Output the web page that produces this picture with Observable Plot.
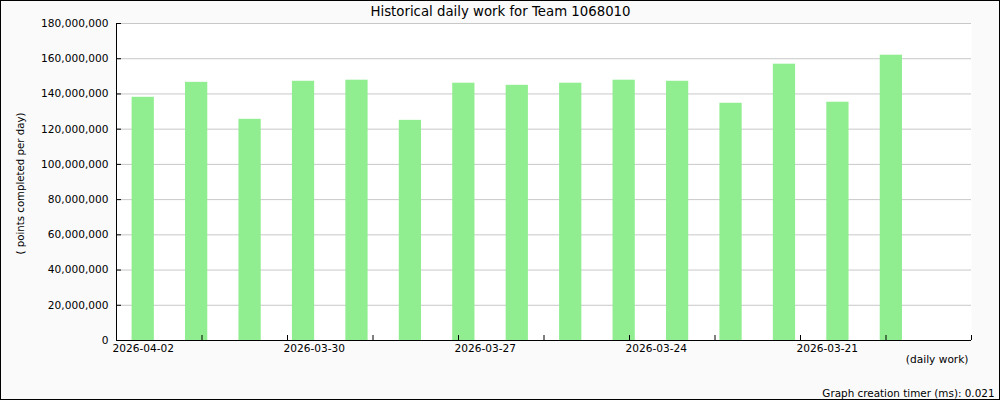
<!DOCTYPE html>
<html>
<head>
<meta charset="utf-8">
<script src="https://cdn.jsdelivr.net/npm/d3@7"></script>
<script src="https://cdn.jsdelivr.net/npm/@observablehq/plot@0.6"></script>
<style>
  html, body { margin: 0; padding: 0; background: #fafafa; }
  #wrap { position: relative; width: 1000px; height: 400px; }
  #border { position: absolute; left: 0; top: 0; width: 1000px; height: 400px; box-sizing: border-box; border: 1px solid #000; pointer-events: none; }
  svg { display: block; }
</style>
</head>
<body>
<div id="wrap"><div id="border"></div></div>
<script>
const titleText = "Historical daily work for Team 1068010";
const yLabelText = "( points completed per day)";
const xLabelText = "(daily work)";
const footerText = "Graph creation timer (ms): 0.021";

const dates = ["2026-04-02","2026-04-01","2026-03-31","2026-03-30","2026-03-29","2026-03-28","2026-03-27","2026-03-26","2026-03-25","2026-03-24","2026-03-23","2026-03-22","2026-03-21","2026-03-20","2026-03-19"];
const values = [138.1e6,146.6e6,125.6e6,147.2e6,147.8e6,125.0e6,146.1e6,144.9e6,146.1e6,147.8e6,147.2e6,134.7e6,156.9e6,135.3e6,162.0e6];
const yTicks = [0,20e6,40e6,60e6,80e6,100e6,120e6,140e6,160e6,180e6];
const xTickLabels = ["2026-04-02","2026-03-30","2026-03-27","2026-03-24","2026-03-21"];

const slots = dates.length + 1;           // one empty slot at the end
const tickCount = 10;                      // minor tick intervals
const tickStep = slots / tickCount;
const xTickPos = d3.range(tickCount + 1).map(k => k * tickStep);
const labelPos = xTickLabels.map((d, i) => i * 2 * tickStep);

const data = dates.map((d, i) => ({date: d, idx: i, value: values[i]}));

const font = "DejaVu Sans";
const chart = Plot.plot({
  width: 1000,
  height: 400,
  marginLeft: 116,
  marginRight: 29,
  marginTop: 23,
  marginBottom: 60,
  style: {background: "#fafafa", fontFamily: font, color: "#000", overflow: "visible"},
  x: {domain: [0, slots], axis: null},
  y: {domain: [0, 180e6], axis: null},
  marks: [
    Plot.frame({fill: "white", stroke: null}),
    Plot.gridY(yTicks, {stroke: "#c8c8c8", strokeOpacity: 1}),
    Plot.rectY(data, {x1: d => d.idx, x2: d => d.idx + 1, y: "value", fill: "#90ee90", insetLeft: 15.6, insetRight: 15.6}),
    Plot.ruleX([0], {stroke: "black"}),
    Plot.ruleY([0], {stroke: "black"}),
    Plot.ruleY(yTicks, {y: d => d, stroke: "black", insetRight: 850}),
    Plot.ruleX(xTickPos, {x: d => d, stroke: "black", insetTop: 312}),
    Plot.text(yTicks, {y: d => d, text: d => d3.format(",")(d), frameAnchor: "left", textAnchor: "end", dx: -8, fontSize: 10.6, fill: "black"}),
    Plot.text(xTickLabels, {x: (d, i) => labelPos[i], text: d => d, frameAnchor: "bottom", textAnchor: "start", lineAnchor: "middle", dx: -4, dy: 8, fontSize: 10.6, fill: "black"}),
    Plot.text([titleText], {text: d => d, frameAnchor: "top-left", textAnchor: "middle", lineAnchor: "middle", dx: 384, dy: -12, fontSize: 13.3, fill: "black"}),
    Plot.text([xLabelText], {text: d => d, frameAnchor: "bottom-left", textAnchor: "end", lineAnchor: "middle", dx: 852, dy: 19.5, fontSize: 10.6, fill: "black"}),
    Plot.text([footerText], {text: d => d, frameAnchor: "bottom-left", textAnchor: "end", lineAnchor: "middle", dx: 878, dy: 53, fontSize: 10.4, fill: "black"}),
    Plot.text([yLabelText], {text: d => d, frameAnchor: "left", textAnchor: "middle", lineAnchor: "middle", rotate: -90, dx: -96, dy: 1.5, fontSize: 10.2, fill: "black"})
  ]
});
document.getElementById("wrap").prepend(chart);
</script>
</body>
</html>
